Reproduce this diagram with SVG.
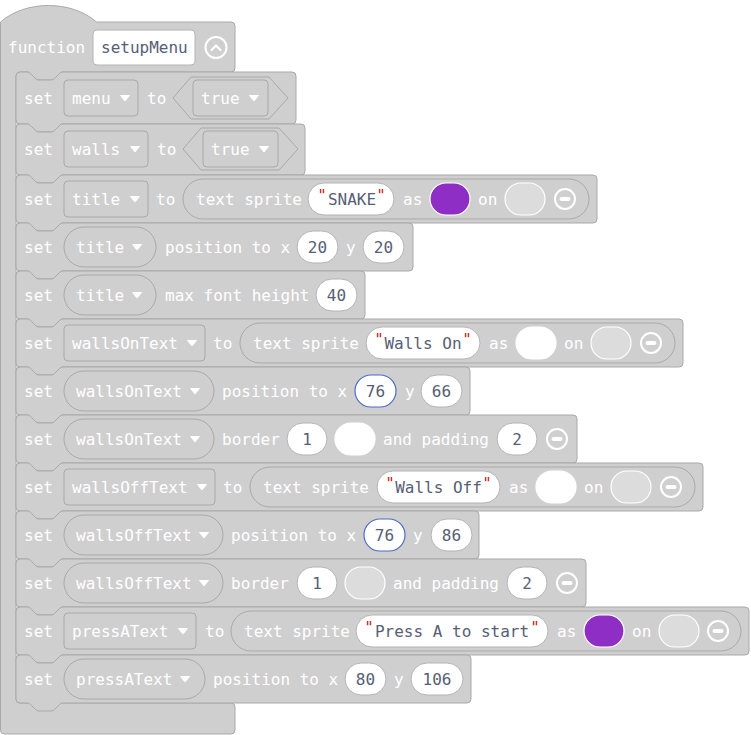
<svg xmlns="http://www.w3.org/2000/svg" width="751" height="735" viewBox="0 0 751 735">
<style>
.blk{fill:#cfcfcf;stroke:#a9a9a9;stroke-width:1}
.fld{fill:#cfcfcf;stroke:#a9a9a9;stroke-width:1}
.num{fill:#fff;stroke:#b4b4b4;stroke-width:1}
.sel{fill:#fff;stroke:#4b6cc9;stroke-width:1.2}
.t{font-family:"DejaVu Sans Mono","Liberation Mono",monospace;font-size:16px;fill:#fff}
.v{font-family:"DejaVu Sans Mono","Liberation Mono",monospace;font-size:16px;fill:#575e75}
.q{font-family:"DejaVu Sans Mono","Liberation Mono",monospace;font-size:15px;fill:#c41919;text-anchor:middle}
.m{text-anchor:middle}
.tri{fill:#fff;stroke:#fff;stroke-width:1;stroke-linejoin:round}
.clr{stroke:#fff;stroke-width:1.2}
.minus circle{fill:none;stroke:#fff;stroke-width:2}
.minus rect{fill:#fff}
</style>
<defs>
<g id="minus" class="minus"><circle cx="0" cy="0" r="10"/><rect x="-5.5" y="-2" width="11" height="4" rx="2"/></g>
<path id="tri" class="tri" d="M-4.5,-2.5 h9 l-4.5,5.5 z"/>
</defs>

<g id="fn-setupMenu">
<path class="blk" d="M0.5,22 c25,-22 71,-22 96,0 H231 a4,4 0 0 1 4,4 V68 a4,4 0 0 1 -4,4 H63 c-2,0 -3,1 -4,2 l-4,4 c-1,1 -2,2 -4,2 h-12 c-2,0 -3,-1 -4,-2 l-4,-4 c-1,-1 -2,-2 -4,-2 H20 a4,4 0 0 0 -4,4 V699 a4,4 0 0 0 4,4 H231 a4,4 0 0 1 4,4 V730 a4,4 0 0 1 -4,4 H4.5 a4,4 0 0 1 -4,-4 Z"/>
<text class="t" x="8" y="52.5">function</text>
<rect x="93" y="30" width="102" height="35" rx="4" fill="#fff" stroke="#b4b4b4"/>
<text class="v" x="101" y="52.5">setupMenu</text>
<circle cx="216" cy="47.5" r="10.5" fill="none" stroke="#fff" stroke-width="2"/>
<polyline points="211.5,50 216,45.5 220.5,50" fill="none" stroke="#fff" stroke-width="2.2" stroke-linecap="round" stroke-linejoin="round"/>
</g>

<g id="connectors"></g>

<g id="set-menu">
<path class="blk" d="M16,76 a4,4 0 0 1 4,-4 H27 c2,0 3,1 4,2 l4,4 c1,1 2,2 4,2 h12 c2,0 3,-1 4,-2 l4,-4 c1,-1 2,-2 4,-2 H292 a4,4 0 0 1 4,4 V120 a4,4 0 0 1 -4,4 H63 c-2,0 -3,1 -4,2 l-4,4 c-1,1 -2,2 -4,2 h-12 c-2,0 -3,-1 -4,-2 l-4,-4 c-1,-1 -2,-2 -4,-2 H20 a4,4 0 0 1 -4,-4 Z"/>
<text class="t" x="24" y="103.5">set</text>
<rect class="fld" x="64" y="80" width="74" height="36" rx="4"/>
<text class="t" x="72" y="103.5">menu</text>
<use href="#tri" x="125" y="98"/>
<text class="t" x="147" y="103.5">to</text>
<polygon class="fld" points="173,98 191,77 269,77 288,98 269,119 191,119"/>
<rect class="fld" x="193" y="80" width="75" height="36" rx="4"/>
<text class="t" x="201" y="103.5">true</text>
<use href="#tri" x="254" y="98"/>
</g>

<g id="set-walls">
<path class="blk" d="M16,128 a4,4 0 0 1 4,-4 H27 c2,0 3,1 4,2 l4,4 c1,1 2,2 4,2 h12 c2,0 3,-1 4,-2 l4,-4 c1,-1 2,-2 4,-2 H301 a4,4 0 0 1 4,4 V171 a4,4 0 0 1 -4,4 H63 c-2,0 -3,1 -4,2 l-4,4 c-1,1 -2,2 -4,2 h-12 c-2,0 -3,-1 -4,-2 l-4,-4 c-1,-1 -2,-2 -4,-2 H20 a4,4 0 0 1 -4,-4 Z"/>
<text class="t" x="24" y="154.5">set</text>
<rect class="fld" x="64" y="131" width="84" height="36" rx="4"/>
<text class="t" x="72" y="154.5">walls</text>
<use href="#tri" x="135" y="149"/>
<text class="t" x="157" y="154.5">to</text>
<polygon class="fld" points="183,149 201,128 279,128 298,149 279,170 201,170"/>
<rect class="fld" x="203" y="131" width="75" height="36" rx="4"/>
<text class="t" x="211" y="154.5">true</text>
<use href="#tri" x="264" y="149"/>
</g>

<g id="set-title-sprite">
<path class="blk" d="M16,179 a4,4 0 0 1 4,-4 H27 c2,0 3,1 4,2 l4,4 c1,1 2,2 4,2 h12 c2,0 3,-1 4,-2 l4,-4 c1,-1 2,-2 4,-2 H593 a4,4 0 0 1 4,4 V219 a4,4 0 0 1 -4,4 H63 c-2,0 -3,1 -4,2 l-4,4 c-1,1 -2,2 -4,2 h-12 c-2,0 -3,-1 -4,-2 l-4,-4 c-1,-1 -2,-2 -4,-2 H20 a4,4 0 0 1 -4,-4 Z"/>
<text class="t" x="24" y="204.5">set</text>
<rect class="fld" x="64" y="181" width="84" height="36" rx="4"/>
<text class="t" x="72" y="204.5">title</text>
<use href="#tri" x="135" y="199"/>
<text class="t" x="156" y="204.5">to</text>
<rect class="fld" x="183" y="179" width="406" height="40" rx="20"/>
<text class="t" x="196" y="204.5">text sprite</text>
<rect class="num" x="308" y="183" width="86" height="32" rx="16"/>
<text class="v m" x="352" y="204.5">SNAKE</text>
<text class="q" x="322" y="200.5">"</text>
<text class="q" x="381" y="200.5">"</text>
<text class="t" x="403" y="204.5">as</text>
<rect class="clr" x="430" y="183" width="40" height="32" rx="16" fill="#8e2ec4"/>
<text class="t" x="478" y="204.5">on</text>
<rect class="clr" x="505" y="183" width="40" height="32" rx="16" fill="#dcdcdc"/>
<use href="#minus" x="565" y="199"/>
</g>

<g id="set-title-position">
<path class="blk" d="M16,227 a4,4 0 0 1 4,-4 H27 c2,0 3,1 4,2 l4,4 c1,1 2,2 4,2 h12 c2,0 3,-1 4,-2 l4,-4 c1,-1 2,-2 4,-2 H409 a4,4 0 0 1 4,4 V267 a4,4 0 0 1 -4,4 H63 c-2,0 -3,1 -4,2 l-4,4 c-1,1 -2,2 -4,2 h-12 c-2,0 -3,-1 -4,-2 l-4,-4 c-1,-1 -2,-2 -4,-2 H20 a4,4 0 0 1 -4,-4 Z"/>
<text class="t" x="24" y="252.5">set</text>
<rect class="fld" x="64" y="227" width="92" height="40" rx="20"/>
<text class="t" x="76" y="252.5">title</text>
<use href="#tri" x="137" y="247"/>
<text class="t" x="165" y="252.5">position to x</text>
<rect class="num" x="297" y="231" width="41" height="32" rx="16"/>
<text class="v m" x="317.5" y="252.5">20</text>
<text class="t" x="346" y="252.5">y</text>
<rect class="num" x="363" y="231" width="41" height="32" rx="16"/>
<text class="v m" x="383.5" y="252.5">20</text>
</g>

<g id="set-title-font">
<path class="blk" d="M16,275 a4,4 0 0 1 4,-4 H27 c2,0 3,1 4,2 l4,4 c1,1 2,2 4,2 h12 c2,0 3,-1 4,-2 l4,-4 c1,-1 2,-2 4,-2 H361 a4,4 0 0 1 4,4 V315 a4,4 0 0 1 -4,4 H63 c-2,0 -3,1 -4,2 l-4,4 c-1,1 -2,2 -4,2 h-12 c-2,0 -3,-1 -4,-2 l-4,-4 c-1,-1 -2,-2 -4,-2 H20 a4,4 0 0 1 -4,-4 Z"/>
<text class="t" x="24" y="300.5">set</text>
<rect class="fld" x="64" y="275" width="92" height="40" rx="20"/>
<text class="t" x="76" y="300.5">title</text>
<use href="#tri" x="137" y="295"/>
<text class="t" x="165" y="300.5">max font height</text>
<rect class="num" x="316" y="279" width="41" height="32" rx="16"/>
<text class="v m" x="336.5" y="300.5">40</text>
</g>

<g id="set-wallsOnText-sprite">
<path class="blk" d="M16,323 a4,4 0 0 1 4,-4 H27 c2,0 3,1 4,2 l4,4 c1,1 2,2 4,2 h12 c2,0 3,-1 4,-2 l4,-4 c1,-1 2,-2 4,-2 H679 a4,4 0 0 1 4,4 V363 a4,4 0 0 1 -4,4 H63 c-2,0 -3,1 -4,2 l-4,4 c-1,1 -2,2 -4,2 h-12 c-2,0 -3,-1 -4,-2 l-4,-4 c-1,-1 -2,-2 -4,-2 H20 a4,4 0 0 1 -4,-4 Z"/>
<text class="t" x="24" y="348.5">set</text>
<rect class="fld" x="64" y="325" width="141" height="36" rx="4"/>
<text class="t" x="72" y="348.5">wallsOnText</text>
<use href="#tri" x="192" y="343"/>
<text class="t" x="213" y="348.5">to</text>
<rect class="fld" x="240" y="323" width="435" height="40" rx="20"/>
<text class="t" x="253" y="348.5">text sprite</text>
<rect class="num" x="366" y="327" width="114" height="32" rx="16"/>
<text class="v m" x="423" y="348.5">Walls On</text>
<text class="q" x="379" y="344.5">"</text>
<text class="q" x="467" y="344.5">"</text>
<text class="t" x="489" y="348.5">as</text>
<rect class="clr" x="516" y="327" width="40" height="32" rx="16" fill="#fff"/>
<text class="t" x="564" y="348.5">on</text>
<rect class="clr" x="591" y="327" width="40" height="32" rx="16" fill="#dcdcdc"/>
<use href="#minus" x="651" y="343"/>
</g>

<g id="set-wallsOnText-position">
<path class="blk" d="M16,371 a4,4 0 0 1 4,-4 H27 c2,0 3,1 4,2 l4,4 c1,1 2,2 4,2 h12 c2,0 3,-1 4,-2 l4,-4 c1,-1 2,-2 4,-2 H466 a4,4 0 0 1 4,4 V411 a4,4 0 0 1 -4,4 H63 c-2,0 -3,1 -4,2 l-4,4 c-1,1 -2,2 -4,2 h-12 c-2,0 -3,-1 -4,-2 l-4,-4 c-1,-1 -2,-2 -4,-2 H20 a4,4 0 0 1 -4,-4 Z"/>
<text class="t" x="24" y="396.5">set</text>
<rect class="fld" x="64" y="371" width="150" height="40" rx="20"/>
<text class="t" x="76" y="396.5">wallsOnText</text>
<use href="#tri" x="195" y="391"/>
<text class="t" x="222" y="396.5">position to x</text>
<rect class="sel" x="355" y="375" width="41" height="32" rx="16"/>
<text class="v m" x="375.5" y="396.5">76</text>
<text class="t" x="405" y="396.5">y</text>
<rect class="num" x="421" y="375" width="41" height="32" rx="16"/>
<text class="v m" x="441.5" y="396.5">66</text>
</g>

<g id="set-wallsOnText-border">
<path class="blk" d="M16,419 a4,4 0 0 1 4,-4 H27 c2,0 3,1 4,2 l4,4 c1,1 2,2 4,2 h12 c2,0 3,-1 4,-2 l4,-4 c1,-1 2,-2 4,-2 H573 a4,4 0 0 1 4,4 V459 a4,4 0 0 1 -4,4 H63 c-2,0 -3,1 -4,2 l-4,4 c-1,1 -2,2 -4,2 h-12 c-2,0 -3,-1 -4,-2 l-4,-4 c-1,-1 -2,-2 -4,-2 H20 a4,4 0 0 1 -4,-4 Z"/>
<text class="t" x="24" y="444.5">set</text>
<rect class="fld" x="64" y="419" width="150" height="40" rx="20"/>
<text class="t" x="76" y="444.5">wallsOnText</text>
<use href="#tri" x="195" y="439"/>
<text class="t" x="222" y="444.5">border</text>
<rect class="num" x="287" y="423" width="40" height="32" rx="16"/>
<text class="v m" x="307" y="444.5">1</text>
<rect class="clr" x="335" y="423" width="40" height="32" rx="16" fill="#fff"/>
<text class="t" x="383" y="444.5">and padding</text>
<rect class="num" x="497" y="423" width="40" height="32" rx="16"/>
<text class="v m" x="517" y="444.5">2</text>
<use href="#minus" x="557" y="439"/>
</g>

<g id="set-wallsOffText-sprite">
<path class="blk" d="M16,467 a4,4 0 0 1 4,-4 H27 c2,0 3,1 4,2 l4,4 c1,1 2,2 4,2 h12 c2,0 3,-1 4,-2 l4,-4 c1,-1 2,-2 4,-2 H699 a4,4 0 0 1 4,4 V507 a4,4 0 0 1 -4,4 H63 c-2,0 -3,1 -4,2 l-4,4 c-1,1 -2,2 -4,2 h-12 c-2,0 -3,-1 -4,-2 l-4,-4 c-1,-1 -2,-2 -4,-2 H20 a4,4 0 0 1 -4,-4 Z"/>
<text class="t" x="24" y="492.5">set</text>
<rect class="fld" x="64" y="469" width="151" height="36" rx="4"/>
<text class="t" x="72" y="492.5">wallsOffText</text>
<use href="#tri" x="202" y="487"/>
<text class="t" x="223" y="492.5">to</text>
<rect class="fld" x="250" y="467" width="445" height="40" rx="20"/>
<text class="t" x="263" y="492.5">text sprite</text>
<rect class="num" x="377" y="471" width="123" height="32" rx="16"/>
<text class="v m" x="438.5" y="492.5">Walls Off</text>
<text class="q" x="390" y="488.5">"</text>
<text class="q" x="487" y="488.5">"</text>
<text class="t" x="509" y="492.5">as</text>
<rect class="clr" x="536" y="471" width="40" height="32" rx="16" fill="#fff"/>
<text class="t" x="584" y="492.5">on</text>
<rect class="clr" x="611" y="471" width="40" height="32" rx="16" fill="#dcdcdc"/>
<use href="#minus" x="671" y="487"/>
</g>

<g id="set-wallsOffText-position">
<path class="blk" d="M16,515 a4,4 0 0 1 4,-4 H27 c2,0 3,1 4,2 l4,4 c1,1 2,2 4,2 h12 c2,0 3,-1 4,-2 l4,-4 c1,-1 2,-2 4,-2 H475 a4,4 0 0 1 4,4 V555 a4,4 0 0 1 -4,4 H63 c-2,0 -3,1 -4,2 l-4,4 c-1,1 -2,2 -4,2 h-12 c-2,0 -3,-1 -4,-2 l-4,-4 c-1,-1 -2,-2 -4,-2 H20 a4,4 0 0 1 -4,-4 Z"/>
<text class="t" x="24" y="540.5">set</text>
<rect class="fld" x="64" y="515" width="159" height="40" rx="20"/>
<text class="t" x="76" y="540.5">wallsOffText</text>
<use href="#tri" x="204" y="535"/>
<text class="t" x="231" y="540.5">position to x</text>
<rect class="sel" x="364" y="519" width="41" height="32" rx="16"/>
<text class="v m" x="384.5" y="540.5">76</text>
<text class="t" x="413" y="540.5">y</text>
<rect class="num" x="431" y="519" width="41" height="32" rx="16"/>
<text class="v m" x="451.5" y="540.5">86</text>
</g>

<g id="set-wallsOffText-border">
<path class="blk" d="M16,563 a4,4 0 0 1 4,-4 H27 c2,0 3,1 4,2 l4,4 c1,1 2,2 4,2 h12 c2,0 3,-1 4,-2 l4,-4 c1,-1 2,-2 4,-2 H582 a4,4 0 0 1 4,4 V603 a4,4 0 0 1 -4,4 H63 c-2,0 -3,1 -4,2 l-4,4 c-1,1 -2,2 -4,2 h-12 c-2,0 -3,-1 -4,-2 l-4,-4 c-1,-1 -2,-2 -4,-2 H20 a4,4 0 0 1 -4,-4 Z"/>
<text class="t" x="24" y="588.5">set</text>
<rect class="fld" x="64" y="563" width="159" height="40" rx="20"/>
<text class="t" x="76" y="588.5">wallsOffText</text>
<use href="#tri" x="204" y="583"/>
<text class="t" x="231" y="588.5">border</text>
<rect class="num" x="297" y="567" width="40" height="32" rx="16"/>
<text class="v m" x="317" y="588.5">1</text>
<rect class="clr" x="345" y="567" width="40" height="32" rx="16" fill="#dcdcdc"/>
<text class="t" x="393" y="588.5">and padding</text>
<rect class="num" x="507" y="567" width="40" height="32" rx="16"/>
<text class="v m" x="527" y="588.5">2</text>
<use href="#minus" x="567" y="583"/>
</g>

<g id="set-pressAText-sprite">
<path class="blk" d="M16,611 a4,4 0 0 1 4,-4 H27 c2,0 3,1 4,2 l4,4 c1,1 2,2 4,2 h12 c2,0 3,-1 4,-2 l4,-4 c1,-1 2,-2 4,-2 H745 a4,4 0 0 1 4,4 V651 a4,4 0 0 1 -4,4 H63 c-2,0 -3,1 -4,2 l-4,4 c-1,1 -2,2 -4,2 h-12 c-2,0 -3,-1 -4,-2 l-4,-4 c-1,-1 -2,-2 -4,-2 H20 a4,4 0 0 1 -4,-4 Z"/>
<text class="t" x="24" y="636.5">set</text>
<rect class="fld" x="64" y="613" width="132" height="36" rx="4"/>
<text class="t" x="72" y="636.5">pressAText</text>
<use href="#tri" x="183" y="631"/>
<text class="t" x="205" y="636.5">to</text>
<rect class="fld" x="231" y="611" width="510" height="40" rx="20"/>
<text class="t" x="244" y="636.5">text sprite</text>
<rect class="num" x="356" y="615" width="192" height="32" rx="16"/>
<text class="v m" x="452" y="636.5">Press A to start</text>
<text class="q" x="369" y="632.5">"</text>
<text class="q" x="535" y="632.5">"</text>
<text class="t" x="557" y="636.5">as</text>
<rect class="clr" x="584" y="615" width="40" height="32" rx="16" fill="#8e2ec4"/>
<text class="t" x="632" y="636.5">on</text>
<rect class="clr" x="659" y="615" width="40" height="32" rx="16" fill="#dcdcdc"/>
<use href="#minus" x="718" y="631"/>
</g>

<g id="set-pressAText-position">
<path class="blk" d="M16,659 a4,4 0 0 1 4,-4 H27 c2,0 3,1 4,2 l4,4 c1,1 2,2 4,2 h12 c2,0 3,-1 4,-2 l4,-4 c1,-1 2,-2 4,-2 H467 a4,4 0 0 1 4,4 V699 a4,4 0 0 1 -4,4 H63 c-2,0 -3,1 -4,2 l-4,4 c-1,1 -2,2 -4,2 h-12 c-2,0 -3,-1 -4,-2 l-4,-4 c-1,-1 -2,-2 -4,-2 H20 a4,4 0 0 1 -4,-4 Z"/>
<text class="t" x="24" y="684.5">set</text>
<rect class="fld" x="64" y="659" width="141" height="40" rx="20"/>
<text class="t" x="76" y="684.5">pressAText</text>
<use href="#tri" x="185" y="679"/>
<text class="t" x="213" y="684.5">position to x</text>
<rect class="num" x="345" y="663" width="41" height="32" rx="16"/>
<text class="v m" x="365.5" y="684.5">80</text>
<text class="t" x="394" y="684.5">y</text>
<rect class="num" x="411" y="663" width="52" height="32" rx="16"/>
<text class="v m" x="437" y="684.5">106</text>
</g>
</svg>
